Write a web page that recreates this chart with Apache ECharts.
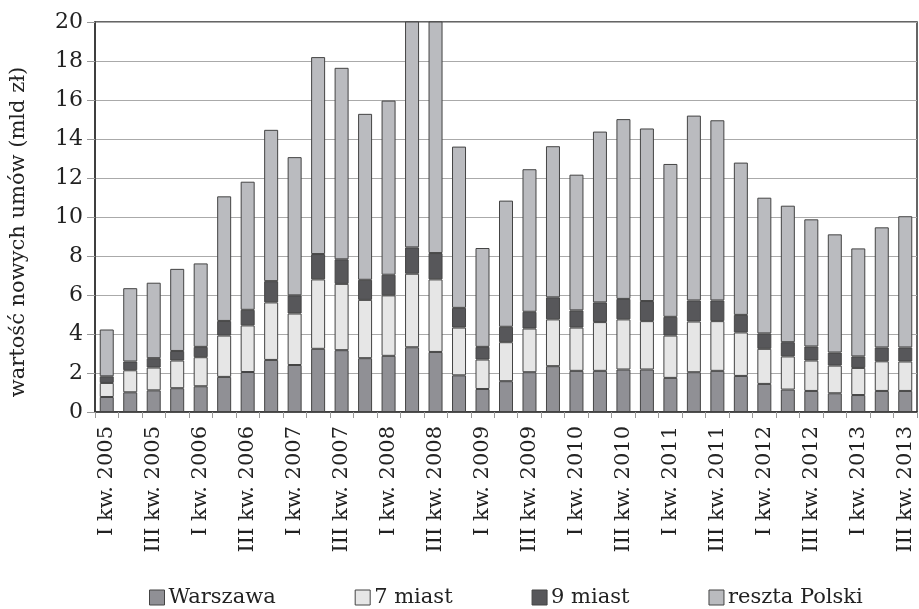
<!DOCTYPE html>
<html>
<head>
<meta charset="utf-8">
<script src="https://cdn.jsdelivr.net/npm/echarts@6/dist/echarts.min.js"></script>
<style>
  html, body { margin: 0; padding: 0; background: #fff; }
  #chart { width: 919px; height: 609px; }
</style>
</head>
<body>
<div id="chart"></div>
<script>
// Quarters I kw. 2005 .. III kw. 2013
const quarters = [
  'I kw. 2005','II kw. 2005','III kw. 2005','IV kw. 2005',
  'I kw. 2006','II kw. 2006','III kw. 2006','IV kw. 2006',
  'I kw. 2007','II kw. 2007','III kw. 2007','IV kw. 2007',
  'I kw. 2008','II kw. 2008','III kw. 2008','IV kw. 2008',
  'I kw. 2009','II kw. 2009','III kw. 2009','IV kw. 2009',
  'I kw. 2010','II kw. 2010','III kw. 2010','IV kw. 2010',
  'I kw. 2011','II kw. 2011','III kw. 2011','IV kw. 2011',
  'I kw. 2012','II kw. 2012','III kw. 2012','IV kw. 2012',
  'I kw. 2013','II kw. 2013','III kw. 2013'
];

// Value of new mortgage contracts (bn PLN), by region
const warszawa = [0.77,1.01,1.11,1.22,1.32,1.80,2.05,2.67,2.41,3.24,3.17,2.76,2.88,3.32,3.08,1.88,1.18,1.58,2.04,2.35,2.11,2.11,2.18,2.18,1.75,2.04,2.11,1.85,1.44,1.15,1.08,0.96,0.87,1.08,1.08];
const miast7   = [0.72,1.13,1.17,1.42,1.49,2.12,2.39,2.95,2.64,3.56,3.40,2.99,3.10,3.77,3.72,2.45,1.51,2.00,2.24,2.40,2.22,2.50,2.57,2.48,2.17,2.60,2.55,2.23,1.80,1.70,1.56,1.42,1.39,1.52,1.51];
const miast9   = [0.34,0.45,0.48,0.49,0.53,0.75,0.80,1.09,0.93,1.30,1.26,1.03,1.06,1.35,1.35,1.01,0.65,0.79,0.86,1.13,0.88,1.01,1.05,1.03,0.96,1.08,1.06,0.90,0.79,0.73,0.72,0.67,0.59,0.71,0.72];
const reszta   = [2.40,3.76,3.87,4.21,4.28,6.39,6.57,7.76,7.09,10.10,9.82,8.51,8.93,12.60,12.70,8.27,5.07,6.47,7.31,7.75,6.96,8.76,9.22,8.85,7.84,9.48,9.24,7.81,6.96,7.00,6.52,6.06,5.54,6.16,6.73];

const yTicks = [0, 2, 4, 6, 8, 10, 12, 14, 16, 18, 20];

const seriesNames  = ['Warszawa', '7 miast', '9 miast', 'reszta Polski'];
const seriesData   = [warszawa, miast7, miast9, reszta];
const seriesColors = ['#909095', '#e6e6e6', '#57575a', '#babbbf'];

const FONT = 'DejaVu Serif';

const chart = echarts.init(document.getElementById('chart'), null, { renderer: 'canvas' });

chart.setOption({
  animation: false,
  backgroundColor: '#ffffff',
  textStyle: { fontFamily: FONT, color: '#222' },
  grid: {
    left: 95, right: 2, top: 22, bottom: 197,
    show: true, borderColor: '#333', borderWidth: 1.5, backgroundColor: 'transparent'
  },
  legend: {
    left: 144, bottom: -4,
    itemWidth: 15, itemHeight: 15, itemGap: 79,
    icon: 'rect',
    textStyle: { fontFamily: FONT, fontSize: 21, color: '#222', padding: [0, 0, 0, -1] },
    data: seriesNames.map((n, i) => ({
      name: n,
      itemStyle: { color: seriesColors[i], borderColor: '#444', borderWidth: 1 }
    }))
  },
  xAxis: {
    type: 'category',
    data: quarters,
    axisLine: { lineStyle: { color: '#333', width: 1.5 } },
    axisTick: { show: true, interval: 0, length: 6, lineStyle: { color: '#999' } },
    axisLabel: {
      interval: 1, rotate: 90, margin: 14,
      fontFamily: FONT, fontSize: 21, color: '#222'
    }
  },
  yAxis: {
    type: 'value',
    min: yTicks[0], max: yTicks[yTicks.length - 1], interval: 2,
    name: 'wartość nowych umów (mld zł)',
    nameLocation: 'middle', nameGap: 66,
    nameTextStyle: { fontFamily: FONT, fontSize: 21, color: '#222', padding: [0, 30, 0, 0] },
    axisLine: { show: true, lineStyle: { color: '#333', width: 1.5 } },
    axisTick: { show: true, length: 8, lineStyle: { color: '#999' } },
    axisLabel: { fontFamily: FONT, fontSize: 22, color: '#222', margin: 12 },
    splitLine: { lineStyle: { color: '#aaa', width: 1.2 } }
  },
  series: seriesNames.map((n, i) => ({
    name: n,
    type: 'bar',
    stack: 'total',
    barWidth: 14,
    clip: true,
    data: seriesData[i],
    itemStyle: { color: seriesColors[i], borderColor: '#444', borderWidth: 1 }
  }))
});
</script>
</body>
</html>
